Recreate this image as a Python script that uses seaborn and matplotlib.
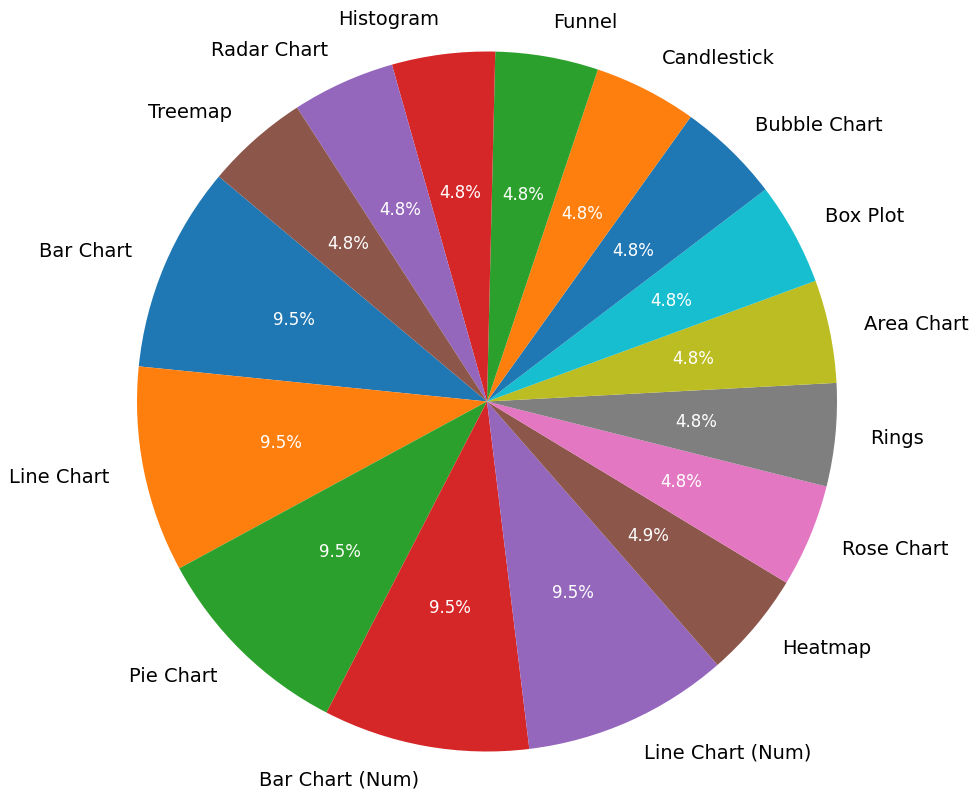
import matplotlib
matplotlib.use("Agg")
import matplotlib.pyplot as plt
import seaborn as sns

labels = ["Bar Chart", "Line Chart", "Pie Chart", "Bar Chart (Num)", "Line Chart (Num)",
          "Heatmap", "Rose Chart", "Rings", "Area Chart", "Box Plot", "Bubble Chart",
          "Candlestick", "Funnel", "Histogram", "Radar Chart", "Treemap"]
values = [2, 2, 2, 2, 2, 1.03, 1, 1, 1, 1, 1, 1, 1, 1, 1, 1]

colors = sns.color_palette("tab10", 10)
colors = [colors[i % 10] for i in range(len(labels))]

fig = plt.figure(figsize=(9.79, 7.99), dpi=100)
ax = fig.add_axes([0, 0, 1, 1])
wedges, texts, autotexts = ax.pie(values, labels=labels, colors=colors, startangle=140,
                                  autopct="%1.1f%%", textprops={"fontsize": 14})
for t in autotexts:
    t.set_color("white")
    t.set_fontsize(12)

# place pie centre at (487, 401) px with radius 350 px
ax.set_xlim(-487 / 350, (979 - 487) / 350)
ax.set_ylim(-397.5 / 350, 401.5 / 350)
ax.axis("off")
plt.savefig("out.png", dpi=100)
